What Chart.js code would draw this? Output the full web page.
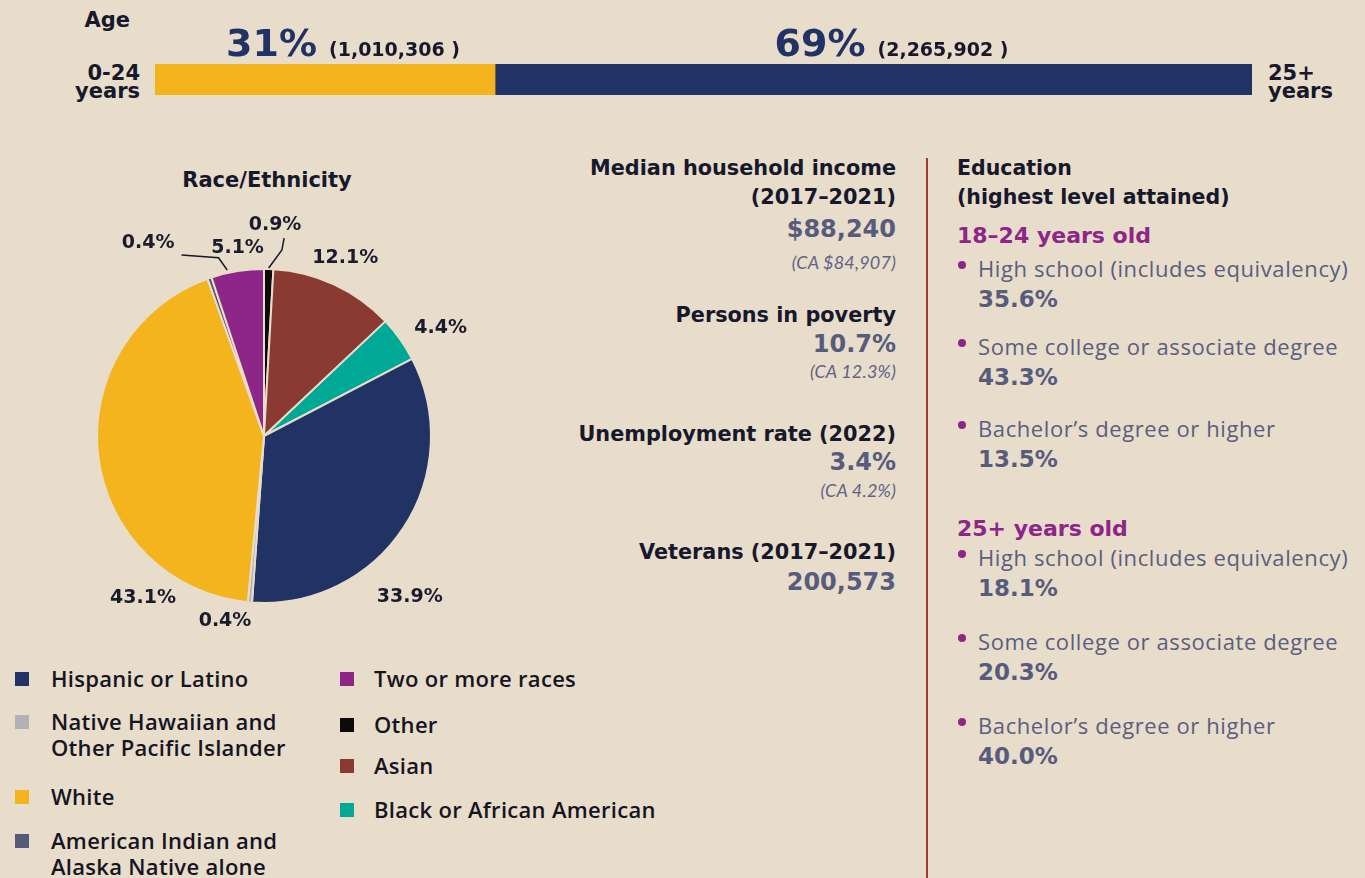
<!DOCTYPE html>
<html>
<head>
<meta charset="utf-8">
<script src="https://cdn.jsdelivr.net/npm/chart.js@4"></script>
<style>
  html, body { margin: 0; padding: 0; }
  body { width: 1365px; height: 878px; background: #e8dccb; position: relative; overflow: hidden; font-family: "DejaVu Sans", sans-serif; }
  .t { position: absolute; white-space: nowrap; line-height: 30px; height: 30px; }
  .hd { font-family: "DejaVu Sans"; font-weight: bold; color: #16182b; }
  .val { font-family: "DejaVu Sans"; font-weight: bold; color: #575c7c; font-size: 24px; }
  .ca { font-family: "Lato"; font-style: italic; color: #5f6386; font-size: 18px; letter-spacing: 0.2px; }
  .edu { font-family: "Open Sans"; color: #5a5e80; font-size: 22px; letter-spacing: 0.6px; }
  .eval { font-family: "DejaVu Sans"; font-weight: bold; color: #575c7c; font-size: 23px; }
  .grp { font-family: "DejaVu Sans"; font-weight: bold; color: #8e2589; font-size: 22px; }
  .dot { position: absolute; width: 8px; height: 8px; border-radius: 50%; background: #8e2589; }
  .sw { position: absolute; width: 14px; height: 14px; }
  .lg { position: absolute; font-family: "Open Sans"; font-weight: 600; font-size: 22px; line-height: 26px; color: #15151f; white-space: nowrap; letter-spacing: 0.3px; }
  #divider { position: absolute; left: 926px; top: 158px; width: 2px; height: 720px; background: #9b3d33; }
  #ageChart { position: absolute; left: 155px; top: 15px; }
  #raceChart { position: absolute; left: 44px; top: 200px; }
</style>
</head>
<body>
<canvas id="ageChart" width="1097" height="80"></canvas>
<canvas id="raceChart" width="440" height="460"></canvas>
<div id="divider"></div>
<div id="txt"></div>
<script>
// age split
const ageGroups = ['0-24 years', '25+ years'];
const agePct = [31, 69];
const ageCounts = ['1,010,306', '2,265,902'];
const ageColors = ['#f4b41e', '#213265'];

// race / ethnicity, clockwise from 12 o'clock
const raceLabels = ['Other', 'Asian', 'Black or African American', 'Hispanic or Latino',
  'Native Hawaiian and Other Pacific Islander', 'White', 'American Indian and Alaska Native alone', 'Two or more races'];
const raceValues = [0.9, 12.1, 4.4, 33.9, 0.4, 43.1, 0.4, 5.1];
const raceColors = ['#0b0b0b', '#8b3a32', '#00a896', '#213265', '#b1b1b6', '#f4b41e', '#555a78', '#8e2589'];

// side stats
const statTitles = [['Median household income', '(2017\u20132021)'], ['Persons in poverty'], ['Unemployment rate (2022)'], ['Veterans (2017\u20132021)']];
const statValues = ['$88,240', '10.7%', '3.4%', '200,573'];
const statCA = ['(CA $84,907)', '(CA 12.3%)', '(CA 4.2%)', null];

// education
const eduLevels = ['High school (includes equivalency)', 'Some college or associate degree', 'Bachelor\u2019s degree or higher'];
const eduGroups = ['18\u201324 years old', '25+ years old'];
const edu1824 = [35.6, 43.3, 13.5];
const edu25 = [18.1, 20.3, 40.0];

const BG = '#e8dccb';
const box = document.getElementById('txt');
function put(x, y, html, cls, align) {
  const d = document.createElement('div');
  d.className = 't ' + cls;
  d.innerHTML = html;
  d.style.top = (y - 15) + 'px';
  if (align === 'right') d.style.right = (1365 - x) + 'px';
  else if (align === 'center') { d.style.left = (x - 200) + 'px'; d.style.width = '400px'; d.style.textAlign = 'center'; }
  else d.style.left = x + 'px';
  box.appendChild(d);
  return d;
}

// age labels
put(130, 20, 'Age', 'hd', 'right').style.fontSize = '21px';
let a = put(140, 73, ageGroups[0].split(' ')[0], 'hd', 'right'); a.style.fontSize = '21px';
a = put(140, 91, ageGroups[0].split(' ')[1], 'hd', 'right'); a.style.fontSize = '21px';
a = put(1268, 73, ageGroups[1].split(' ')[0], 'hd'); a.style.fontSize = '21px';
a = put(1268, 91, ageGroups[1].split(' ')[1], 'hd'); a.style.fontSize = '21px';

const ageLabels = {
  id: 'ageLabels',
  afterDatasetsDraw(chart) {
    const ctx = chart.ctx;
    chart.data.datasets.forEach((ds, i) => {
      const bar = chart.getDatasetMeta(i).data[0];
      const cx = (bar.base + bar.x) / 2 + 18;
      const big = agePct[i] + '%';
      const small = '(' + ageCounts[i] + ' )';
      ctx.save();
      ctx.textBaseline = 'alphabetic';
      ctx.font = 'bold 38px "DejaVu Sans"';
      const w1 = ctx.measureText(big).width;
      ctx.font = 'bold 19px "DejaVu Sans"';
      const w2 = ctx.measureText(small).width;
      const x0 = cx - (w1 + 12 + w2) / 2;
      ctx.fillStyle = '#213265';
      ctx.font = 'bold 38px "DejaVu Sans"';
      ctx.fillText(big, x0, 41);
      ctx.fillStyle = '#16182b';
      ctx.font = 'bold 19px "DejaVu Sans"';
      ctx.fillText(small, x0 + w1 + 12, 41);
      ctx.restore();
    });
  }
};

new Chart(document.getElementById('ageChart'), {
  type: 'bar',
  data: {
    labels: ['Age'],
    datasets: ageGroups.map((g, i) => ({
      label: g, data: [agePct[i]], backgroundColor: ageColors[i],
      barPercentage: 1, categoryPercentage: 1, borderWidth: 0
    }))
  },
  options: {
    indexAxis: 'y', responsive: false, animation: false,
    layout: { padding: { top: 49, bottom: 0, left: 0, right: 0 } },
    scales: {
      x: { stacked: true, min: 0, max: 100, display: false },
      y: { stacked: true, display: false }
    },
    plugins: { legend: { display: false }, tooltip: { enabled: false } }
  },
  plugins: [ageLabels]
});

// pie
put(267, 180, 'Race/Ethnicity', 'hd', 'center').style.fontSize = '21px';

// label placement: compass degrees from chart centre and distance in px
const labelSpots = [[3, 211], [24.5, 196], [58.6, 207], [137.8, 217], [191.9, 189], [216.8, 202], [329, 225], [352, 190]];
const leaders = { 0: [[1.6, 168], [5.5, 187], [5.8, 199]], 6: [[-12.5, 170], [-14.3, 184], [-24.5, 199]] };

const pieLabels = {
  id: 'pieLabels',
  afterDatasetsDraw(chart) {
    const ctx = chart.ctx;
    const arcs = chart.getDatasetMeta(0).data;
    const cx = arcs[0].x, cy = arcs[0].y;
    const pt = (deg, r) => [cx + r * Math.sin(deg * Math.PI / 180), cy - r * Math.cos(deg * Math.PI / 180)];
    ctx.save();
    ctx.strokeStyle = '#16182b';
    ctx.lineWidth = 1.5;
    Object.keys(leaders).forEach(k => {
      ctx.beginPath();
      leaders[k].forEach((p, j) => {
        const [x, y] = pt(p[0], p[1]);
        if (j === 0) ctx.moveTo(x, y); else ctx.lineTo(x, y);
      });
      ctx.stroke();
    });
    ctx.fillStyle = '#1a1b2c';
    ctx.font = 'bold 19px "DejaVu Sans"';
    ctx.textAlign = 'center';
    ctx.textBaseline = 'middle';
    raceValues.forEach((v, i) => {
      const [x, y] = pt(labelSpots[i][0], labelSpots[i][1]);
      ctx.fillText(v.toFixed(1) + '%', x, y);
    });
    ctx.restore();
  }
};

new Chart(document.getElementById('raceChart'), {
  type: 'pie',
  data: {
    labels: raceLabels,
    datasets: [{ data: raceValues, backgroundColor: raceColors, borderColor: BG, borderWidth: 2 }]
  },
  options: {
    responsive: false, animation: false,
    layout: { padding: { left: 52, right: 52, top: 67, bottom: 55 } },
    plugins: { legend: { display: false }, tooltip: { enabled: false } }
  },
  plugins: [pieLabels]
});

// legend
const legendCols = [
  { x: 15, tx: 51, items: [['Hispanic or Latino', 679], ['Native Hawaiian and Other Pacific Islander', 722, 'Native Hawaiian and<br>Other Pacific Islander'], ['White', 797], ['American Indian and Alaska Native alone', 841, 'American Indian and<br>Alaska Native alone']] },
  { x: 340, tx: 374, items: [['Two or more races', 679], ['Other', 725], ['Asian', 766], ['Black or African American', 810]] }
];
legendCols.forEach(col => {
  col.items.forEach(it => {
    const i = raceLabels.indexOf(it[0]);
    const sw = document.createElement('div');
    sw.className = 'sw';
    sw.style.left = col.x + 'px';
    sw.style.top = (it[1] - 7) + 'px';
    sw.style.background = raceColors[i];
    document.body.appendChild(sw);
    const lg = document.createElement('div');
    lg.className = 'lg';
    lg.style.left = col.tx + 'px';
    lg.style.top = (it[1] - 14) + 'px';
    lg.innerHTML = it[2] || it[0];
    document.body.appendChild(lg);
  });
});

// stats column
const statY = [[168, 197, 229, 262], [315, 344, 371], [434, 462, 490], [552, 582]];
statTitles.forEach((tt, i) => {
  const ys = statY[i];
  tt.forEach((line, j) => { put(896, ys[j], line, 'hd', 'right').style.fontSize = '20.8px'; });
  put(896, ys[tt.length], statValues[i], 'val', 'right');
  if (statCA[i]) put(896, ys[tt.length + 1], statCA[i], 'ca', 'right');
});

// education column
put(957, 168, 'Education', 'hd').style.fontSize = '20.5px';
put(957, 197, '(highest level attained)', 'hd').style.fontSize = '20.5px';
const eduY = [[236, [268, 346, 428]], [529, [557, 641, 725]]];
[edu1824, edu25].forEach((vals, g) => {
  put(957, eduY[g][0], eduGroups[g], 'grp');
  eduLevels.forEach((lvl, k) => {
    const y = eduY[g][1][k];
    const d = document.createElement('div');
    d.className = 'dot';
    d.style.left = '958px';
    d.style.top = (y - 7) + 'px';
    document.body.appendChild(d);
    put(978, y, lvl, 'edu');
    put(978, y + 31, vals[k].toFixed(1) + '%', 'eval');
  });
});
</script>
</body>
</html>
